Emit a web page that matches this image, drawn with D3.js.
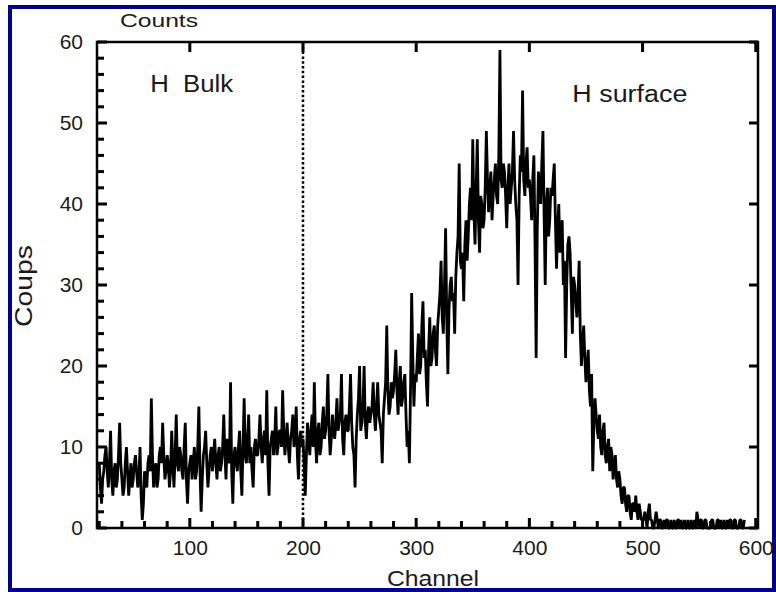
<!DOCTYPE html>
<html>
<head>
<meta charset="utf-8">
<script src="https://cdn.jsdelivr.net/npm/d3@7"></script>
<style>
  body { margin: 0; background: #fff; }
  text { font-family: "Liberation Sans", Arial, sans-serif; fill: #1a1a1a; }
</style>
</head>
<body>
<div class="chart"></div>
<script>
var W = 776, H = 592;
var margin = {top: 42, right: 18, bottom: 64, left: 97},
    width = W - margin.left - margin.right,
    height = H - margin.top - margin.bottom;

// counts on even channels 20, 22, ... 590
var countsEven = [
  8, 3, 7, 10, 5, 12, 4, 8, 6, 13,
  6, 5, 10, 4, 8, 6, 9, 5, 10, 1,
  7, 5, 9, 16, 5, 8, 6, 10, 13, 6,
  9, 5, 12, 5, 14, 7, 9, 6, 13, 3,
  8, 6, 10, 7, 15, 2, 9, 12, 5, 9,
  7, 11, 6, 10, 8, 14, 6, 9, 18, 3,
  10, 7, 12, 4, 16, 8, 14, 10, 5, 11,
  9, 14, 8, 12, 17, 4, 11, 9, 15, 10,
  12, 17, 9, 13, 8, 12, 10, 15, 6, 12,
  11, 4, 13, 9, 14, 18, 8, 13, 10, 15,
  12, 19, 9, 14, 11, 16, 13, 19, 9, 14,
  12, 19, 10, 5, 14, 20, 13, 20, 11, 15,
  14, 18, 12, 18, 13, 8, 16, 25, 14, 18,
  17, 22, 14, 20, 16, 19, 10, 8, 29, 15,
  18, 24, 20, 28, 22, 15, 26, 21, 25, 20,
  27, 33, 24, 37, 19, 30, 28, 24, 34, 45,
  32, 28, 38, 36, 42, 48, 35, 48, 34, 40,
  38, 49, 39, 44, 41, 45, 40, 59, 42, 44,
  37, 45, 42, 49, 40, 30, 46, 54, 41, 47,
  43, 38, 46, 21, 44, 40, 49, 30, 42, 38,
  41, 45, 32, 40, 36, 30, 21, 35, 34, 24,
  30, 26, 33, 20, 25, 18, 22, 15, 7, 16,
  12, 14, 9, 13, 8, 11, 10, 6, 9, 5,
  6, 3, 5, 2, 4, 1, 3, 4, 1, 2,
  1, 2, 0, 3, 1, 0, 2, 0, 1, 0,
  0, 1, 0, 0, 1, 0, 1, 1, 0, 0,
  1, 0, 0, 1, 2, 0, 1, 0, 1, 0,
  0, 1, 0, 1, 0, 0, 1, 0, 0, 1,
  0, 1, 0, 1, 0, 1
];
// counts on odd channels 21, 23, ... 589
var countsOdd = [
  5, 6, 9, 7, 8, 6, 7, 5, 9, 8,
  4, 8, 7, 6, 5, 8, 7, 6, 4, 3,
  6, 8, 7, 9, 7, 5, 9, 8, 9, 7,
  8, 7, 8, 9, 8, 10, 7, 10, 6, 7,
  9, 8, 6, 10, 7, 6, 10, 8, 7, 10,
  9, 8, 9, 7, 10, 9, 11, 8, 7, 9,
  8, 10, 7, 10, 9, 11, 8, 7, 10, 9,
  11, 10, 11, 9, 8, 10, 12, 11, 9, 12,
  10, 12, 11, 10, 11, 14, 11, 9, 11, 10,
  8, 9, 11, 12, 10, 11, 12, 9, 13, 11,
  14, 12, 11, 12, 13, 12, 14, 11, 13, 12,
  15, 13, 9, 11, 16, 12, 15, 13, 14, 13,
  15, 14, 15, 14, 12, 14, 18, 17, 15, 16,
  19, 17, 18, 15, 18, 14, 12, 17, 21, 19,
  21, 19, 25, 21, 18, 22, 20, 24, 22, 25,
  29, 26, 30, 26, 27, 31, 29, 31, 36, 33,
  34, 35, 33, 40, 38, 39, 42, 38, 41, 37,
  42, 43, 42, 38, 43, 41, 46, 43, 45, 41,
  42, 40, 44, 43, 38, 41, 44, 43, 45, 42,
  41, 43, 35, 37, 42, 45, 39, 40, 36, 42,
  43, 38, 37, 34, 38, 33, 30, 36, 29, 31,
  28, 29, 24, 23, 21, 20, 17, 19, 13, 14,
  11, 10, 12, 9, 10, 7, 9, 8, 6, 7,
  4, 5, 3, 4, 2, 3, 2, 2, 3, 1,
  1, 1, 2, 1, 0, 1, 1, 1, 0, 1,
  1, 0, 1, 0, 0, 1, 0, 0, 1, 0,
  0, 1, 0, 0, 1, 1, 0, 1, 0, 0,
  1, 0, 0, 1, 1, 0, 0, 1, 1, 0,
  1, 0, 0, 1, 0
];

var xTicks = [100, 200, 300, 400, 500, 600];
var xMinor = [20, 40, 60, 80, 120, 140, 160, 180, 220, 240, 260, 280, 320, 340, 360, 380, 420, 440, 460, 480, 520, 540, 560, 580];
var yTicks = [0, 10, 20, 30, 40, 50, 60];
var yMinor = [2, 4, 6, 8, 12, 14, 16, 18, 22, 24, 26, 28, 32, 34, 36, 38, 42, 44, 46, 48, 52, 54, 56, 58];
var divider = 200;
var regions = [{name: "H  Bulk", ch: 65, v: 53.8, len: 83},
               {name: "H surface", ch: 438, v: 52.6, len: 115}];

var svg = d3.select(".chart").append("svg")
    .attr("width", W)
    .attr("height", H);

svg.append("rect")
    .attr("x", 10).attr("y", 7)
    .attr("width", 764).attr("height", 583)
    .attr("fill", "#fff")
    .attr("stroke", "#00008b")
    .attr("stroke-width", 4);

var g = svg.append("g")
    .attr("transform", "translate(" + margin.left + "," + margin.top + ")");

var xs = d3.scaleLinear().domain([18, 602]).range([0, width]);
var ys = d3.scaleLinear().domain([0, 60]).range([height, 0]);

var data = countsEven.map(function(c, i) { return {ch: 20 + 2 * i, c: c}; })
  .concat(countsOdd.map(function(c, i) { return {ch: 21 + 2 * i, c: c}; }))
  .sort(function(a, b) { return a.ch - b.ch; });

function labelsOnly(sel) {
  sel.select(".domain").remove();
  sel.selectAll(".tick line").remove();
  sel.selectAll("text").attr("font-size", 21).attr("fill", "#1a1a1a")
     .style("font-family", "'Liberation Sans', Arial, sans-serif");
}

g.append("g").attr("transform", "translate(0," + height + ")")
  .call(d3.axisBottom(xs).tickValues(xTicks).tickSize(0).tickPadding(12))
  .call(labelsOnly);
g.append("g")
  .call(d3.axisLeft(ys).tickValues(yTicks).tickSize(0).tickPadding(14))
  .call(labelsOnly);

var line = d3.line()
  .x(function(d) { return xs(d.ch); })
  .y(function(d) { return ys(d.c); });

g.append("path")
  .datum(data)
  .attr("fill", "none")
  .attr("stroke", "#000")
  .attr("stroke-width", 2.8)
  .attr("stroke-linejoin", "bevel")
  .attr("d", line);

g.append("line")
  .attr("x1", xs(divider)).attr("x2", xs(divider))
  .attr("y1", 0).attr("y2", height)
  .attr("stroke", "#000")
  .attr("stroke-width", 2.5)
  .attr("stroke-dasharray", "2.5,2.3");

g.append("rect")
  .attr("width", width).attr("height", height)
  .attr("fill", "none")
  .attr("stroke", "#000")
  .attr("stroke-width", 2.5);

// inward ticks
var tk = g.append("g").attr("class", "ticks");
function xTickMarks(vals, y0, len) {
  vals.forEach(function(d) {
    tk.append("rect").attr("x", xs(d) - 1.5).attr("y", Math.min(y0, y0 + len))
      .attr("width", 3).attr("height", Math.abs(len)).attr("fill", "#000");
  });
}
function yTickMarks(vals, x0, len) {
  vals.forEach(function(d) {
    tk.append("rect").attr("y", ys(d) - 1.5).attr("x", Math.min(x0, x0 + len))
      .attr("height", 3).attr("width", Math.abs(len)).attr("fill", "#000");
  });
}
xTickMarks(xTicks, height, -10);
xTickMarks(xMinor, height, -7);
xTickMarks(xTicks, 0, 10);
yTickMarks(yTicks, 0, 10);
yTickMarks(yMinor, 0, 7);
yTickMarks(yTicks, width, -9);

g.selectAll(".region")
  .data(regions)
  .enter().append("text")
  .attr("class", "region")
  .attr("x", function(d) { return xs(d.ch); })
  .attr("y", function(d) { return ys(d.v); })
  .attr("font-size", 23)
  .attr("textLength", function(d) { return d.len; })
  .attr("lengthAdjust", "spacingAndGlyphs")
  .style("white-space", "pre")
  .text(function(d) { return d.name; });

svg.append("text")
  .attr("x", 120).attr("y", 27)
  .attr("font-size", 19)
  .attr("textLength", 78)
  .attr("lengthAdjust", "spacingAndGlyphs")
  .text("Counts");

svg.append("text")
  .attr("x", 387).attr("y", 586)
  .attr("font-size", 22)
  .attr("textLength", 92)
  .attr("lengthAdjust", "spacingAndGlyphs")
  .text("Channel");

svg.append("text")
  .attr("transform", "translate(32,327) rotate(-90)")
  .attr("font-size", 23)
  .attr("textLength", 82)
  .attr("lengthAdjust", "spacingAndGlyphs")
  .text("Coups");
</script>
</body>
</html>
